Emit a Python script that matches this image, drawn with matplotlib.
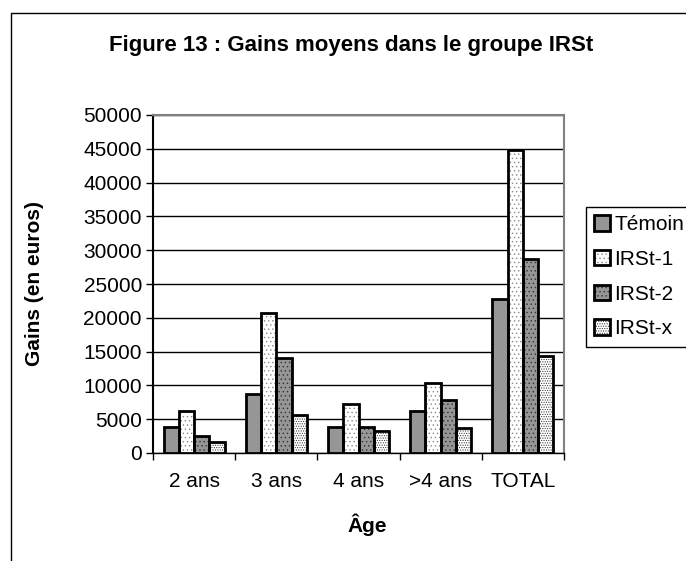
import numpy as np
import matplotlib
matplotlib.use("Agg")
import matplotlib.pyplot as plt
from matplotlib.patches import Patch, Rectangle
from matplotlib.legend_handler import HandlerTuple

# data
categories = ["2 ans", "3 ans", "4 ans", ">4 ans", "TOTAL"]
temoin = [3800, 8800, 3800, 6200, 22800]
irst_1 = [6200, 20700, 7300, 10400, 44800]
irst_2 = [2500, 14100, 3800, 7900, 28700]
irst_x = [1600, 5600, 3200, 3700, 14400]
series_names = ["Témoin", "IRSt-1", "IRSt-2", "IRSt-x"]
yticks = list(range(0, 50001, 5000))

plt.rcParams["font.family"] = ["Liberation Sans", "DejaVu Sans"]
plt.rcParams["hatch.linewidth"] = 0.5

GRAY = "#969696"
# fill, dot colour, hatch per series
styles = [
    (GRAY, GRAY, None),
    ("white", "#8a8a8a", "...."),
    (GRAY, "#333333", "...."),
    ("white", "#333333", "......."),
]

fig = plt.figure(figsize=(6.86, 5.61), dpi=100)
fig.patches.append(Rectangle((11 / 686, -0.1), 1.2, 1 - 13 / 561 + 0.1,
                             transform=fig.transFigure, fill=False,
                             edgecolor="black", lw=1.0))
ax = fig.add_axes([153 / 686, 1 - 453 / 561, 411 / 686, 338 / 561])

x = np.arange(len(categories))
w = 0.185
handles = []
for i, (vals, (fc, dc, hatch)) in enumerate(zip([temoin, irst_1, irst_2, irst_x], styles)):
    pos = x + (i - 1.5) * w
    ax.bar(pos, vals, w, color=fc, edgecolor=dc, hatch=hatch, linewidth=0, zorder=3)
    ax.bar(pos, vals, w, fill=False, edgecolor="black", linewidth=2.0, zorder=4)
    handles.append((Patch(facecolor=fc, edgecolor=dc, hatch=hatch, linewidth=0),
                    Patch(fill=False, edgecolor="black", linewidth=2.0)))

ax.set_xlim(-0.5, len(categories) - 0.5)
ax.set_ylim(0, 50000)
ax.set_yticks(yticks)
ax.set_yticklabels([str(v) for v in yticks])
ax.yaxis.grid(True, color="black", lw=1.0)
ax.set_axisbelow(True)

ax.set_xticks(x)
ax.set_xticklabels(categories)
ax.set_xticks(np.arange(-0.5, len(categories)), minor=True)
ax.tick_params(axis="x", which="major", length=0, pad=14, labelsize=15)
ax.tick_params(axis="x", which="minor", length=5, width=1)
ax.tick_params(axis="y", length=5, width=1, pad=3, labelsize=15)

for side in ("top", "right"):
    ax.spines[side].set_color("#808080")
    ax.spines[side].set_linewidth(1.5)
ax.spines["left"].set_linewidth(1.5)
ax.spines["bottom"].set_linewidth(1.0)

fig.text(351 / 686, 1 - 45 / 561, "Figure 13 : Gains moyens dans le groupe IRSt",
         ha="center", va="center", fontsize=16, fontweight="bold")
fig.text(35 / 686, 1 - 284 / 561, "Gains (en euros)", rotation=90,
         ha="center", va="center", fontsize=15, fontweight="bold")
fig.text(367 / 686, 1 - 525 / 561, "Âge", ha="center", va="center",
         fontsize=15, fontweight="bold")

fig.legend(handles, series_names, handler_map={tuple: HandlerTuple(ndivide=1)},
           loc="upper left", bbox_to_anchor=(586 / 686, 1 - 207 / 561),
           borderaxespad=0, fancybox=False, edgecolor="black", framealpha=1,
           fontsize=15, handlelength=0.75, handleheight=0.75, handletextpad=0.2,
           labelspacing=0.75, borderpad=0.4)

fig.savefig("out.png", dpi=100)
